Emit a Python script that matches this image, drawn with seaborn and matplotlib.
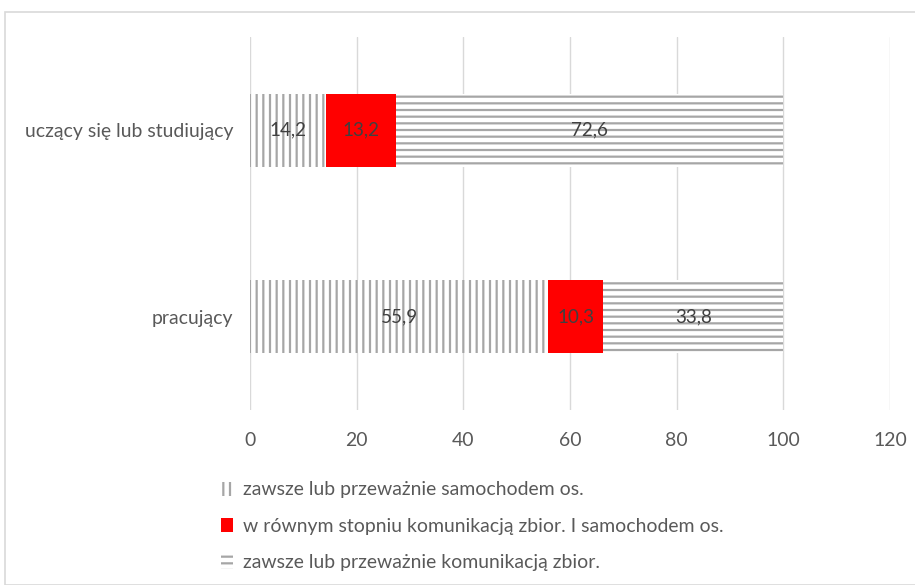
import matplotlib
matplotlib.use("Agg")
import matplotlib.pyplot as plt
import matplotlib.patches as mpatches
import seaborn as sns
import pandas as pd

# Data
categories = ["uczący się lub studiujący", "pracujący"]
samochod = [14.2, 55.9]
rowno = [13.2, 10.3]
komunikacja = [72.6, 33.8]
series_labels = ["zawsze lub przeważnie samochodem os.",
                 "w równym stopniu komunikacją zbior. I samochodem os.",
                 "zawsze lub przeważnie komunikacją zbior."]
xticks = [0, 20, 40, 60, 80, 100, 120]

sns.set_style("white")
plt.rcParams["font.family"] = ["Lato", "DejaVu Sans"]

# dpi 120 so the hatch spacing is close to the original; sizes scaled down to match
DPI = 120
k = 100 / DPI
plt.rcParams["hatch.linewidth"] = 1.6 * k

grey_hatch = "#a6a6a6"
red = "#ff0000"
text_col = "#595959"

df = pd.DataFrame({"cat": categories, "s1": samochod, "s2": rowno, "s3": komunikacja})
df["c2"] = df["s1"] + df["s2"]
df["c3"] = df["c2"] + df["s3"]

fig = plt.figure(figsize=(915 / DPI, 585 / DPI), dpi=DPI)
ax = fig.add_axes([250 / 915, 1 - 410 / 585, (890 - 250) / 915, (410 - 37) / 585])

# stacked bars drawn from the total down
sns.barplot(data=df, x="c3", y="cat", orient="h", color="white", edgecolor=grey_hatch,
            linewidth=0, hatch="---", width=0.39, saturation=1, ax=ax)
sns.barplot(data=df, x="c2", y="cat", orient="h", color=red, edgecolor=red,
            linewidth=0, width=0.39, saturation=1, ax=ax)
sns.barplot(data=df, x="s1", y="cat", orient="h", color="white", edgecolor=grey_hatch,
            linewidth=0, hatch="|||", width=0.39, saturation=1, ax=ax)

# value labels
for i, row in df.iterrows():
    starts = [0, row["s1"], row["c2"]]
    vals = [row["s1"], row["s2"], row["s3"]]
    for st, v in zip(starts, vals):
        ax.text(st + v / 2, i, f"{v:.1f}".replace(".", ","), ha="center", va="center",
                fontsize=13.5 * k, color="#404040")

ax.set_xlim(0, 120)
ax.set_ylim(1.5, -0.5)
ax.set_xticks(xticks)
ax.xaxis.grid(True, color="#d9d9d9", linewidth=1 * k)
ax.set_axisbelow(True)
for s in ["top", "right", "bottom", "left"]:
    ax.spines[s].set_visible(False)
ax.tick_params(axis="both", length=0, labelsize=14 * k, colors=text_col, pad=12 * k)
ax.tick_params(axis="x", pad=16 * k)
ax.set_xlabel("")
ax.set_ylabel("")

# legend
handles = [
    mpatches.Patch(facecolor="white", edgecolor=grey_hatch, linewidth=0, hatch="|||"),
    mpatches.Patch(facecolor=red, edgecolor=red, linewidth=0),
    mpatches.Patch(facecolor="white", edgecolor=grey_hatch, linewidth=0, hatch="---"),
]
fig.legend(handles, series_labels, loc="upper left", bbox_to_anchor=(203 / 915, 1 - 464 / 585),
           frameon=False, fontsize=14 * k, handlelength=0.65, handleheight=0.75,
           handletextpad=0.5, labelspacing=1.0, labelcolor=text_col)

# outer chart frame
fig.patches.append(mpatches.Rectangle((5 / 915, 0), 1, 1 - 12 / 585, transform=fig.transFigure,
                                      fill=False, edgecolor="#d9d9d9", linewidth=1.2 * k))

fig.savefig("out.png", dpi=DPI)
